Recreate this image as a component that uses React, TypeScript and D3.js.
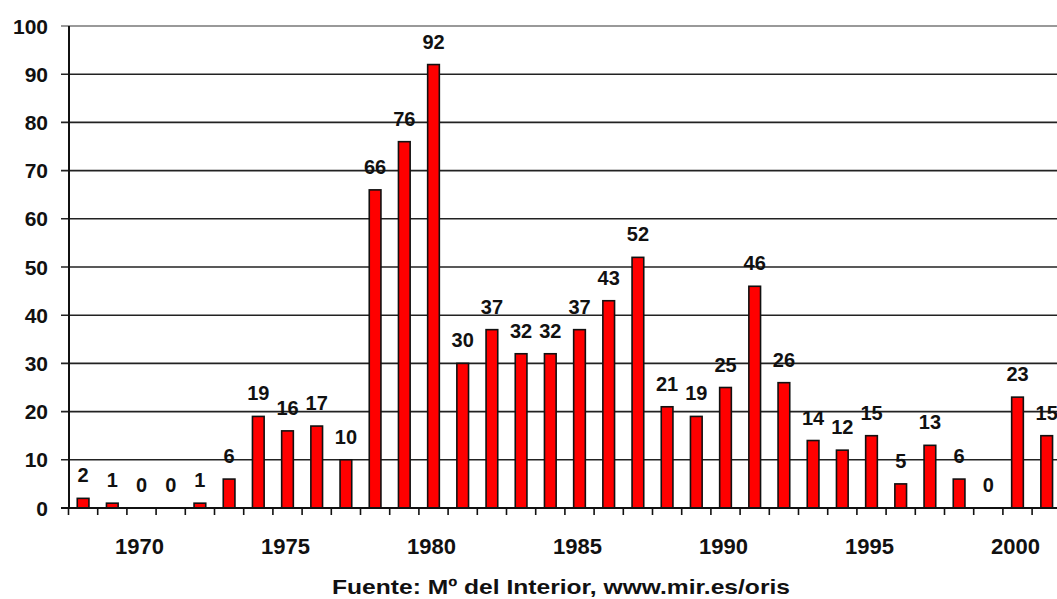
import React, { useEffect, useRef } from 'react';
import * as d3 from 'd3';

const years = d3.range(1968, 2002);
const counts = [2, 1, 0, 0, 1, 6, 19, 16, 17, 10, 66, 76, 92, 30, 37, 32, 32, 37, 43, 52, 21, 19, 25, 46, 26, 14, 12, 15, 5, 13, 6, 0, 23, 15];
const yTicks = [0, 10, 20, 30, 40, 50, 60, 70, 80, 90, 100];
const yearLabels = [1970, 1975, 1980, 1985, 1990, 1995, 2000];
const source = 'Fuente: Mº del Interior, www.mir.es/oris';

const BarChart = ({ width = 1057, height = 599 }) => {
  const svgRef = useRef(null);

  useEffect(() => {
    const svg = d3.select(svgRef.current);
    svg.selectAll('*').remove();

    const left = 68.5;
    const step = 29.2;
    const x = d3.scaleBand()
      .domain(years.map(String))
      .range([left, left + step * years.length])
      .padding(0);

    const y = d3.scaleLinear().domain([0, 100]).range([508, 26]);

    const font = 'Liberation Sans, Arial, sans-serif';

    // gridlines + y labels
    const g = svg.append('g');
    g.selectAll('line.grid')
      .data(yTicks.filter(d => d > 0))
      .enter()
      .append('line')
      .attr('x1', 61)
      .attr('x2', width)
      .attr('y1', d => y(d))
      .attr('y2', d => y(d))
      .attr('stroke', d => (d === 100 ? '#777' : '#222'))
      .attr('stroke-width', 1.6);

    g.selectAll('text.ylab')
      .data(yTicks)
      .enter()
      .append('text')
      .attr('x', 48)
      .attr('y', d => y(d))
      .attr('dy', '0.36em')
      .attr('text-anchor', 'end')
      .style('font-family', font)
      .style('font-weight', 'bold')
      .style('font-size', '21px')
      .attr('fill', '#111')
      .text(d => d);

    // bars
    const bw = x.bandwidth() * 0.4;
    svg.append('g')
      .selectAll('rect')
      .data(counts)
      .enter()
      .append('rect')
      .attr('x', (d, i) => x(String(years[i])) + (x.bandwidth() - bw) / 2)
      .attr('y', d => y(d))
      .attr('width', bw)
      .attr('height', d => y(0) - y(d))
      .attr('fill', '#ff0000')
      .attr('stroke', '#111')
      .attr('stroke-width', 1.6);

    // value labels
    svg.append('g')
      .selectAll('text')
      .data(counts)
      .enter()
      .append('text')
      .attr('x', (d, i) => x(String(years[i])) + x.bandwidth() / 2)
      .attr('y', d => y(d) - 16)
      .attr('text-anchor', 'middle')
      .style('font-family', font)
      .style('font-weight', 'bold')
      .style('font-size', '20px')
      .attr('fill', '#111')
      .text(d => d);

    // axes
    svg.append('line')
      .attr('x1', 69).attr('x2', 69)
      .attr('y1', y(100)).attr('y2', y(0))
      .attr('stroke', '#111').attr('stroke-width', 2);
    svg.append('line')
      .attr('x1', 61).attr('x2', width)
      .attr('y1', y(0)).attr('y2', y(0))
      .attr('stroke', '#111').attr('stroke-width', 2);

    // x ticks at band boundaries
    svg.append('g')
      .selectAll('line')
      .data(years)
      .enter()
      .append('line')
      .attr('x1', d => x(String(d)))
      .attr('x2', d => x(String(d)))
      .attr('y1', y(0))
      .attr('y2', y(0) + 7)
      .attr('stroke', '#111')
      .attr('stroke-width', 1.6);

    svg.append('g')
      .selectAll('text')
      .data(yearLabels)
      .enter()
      .append('text')
      .attr('x', d => x(String(d)) + x.bandwidth() / 2 - 2)
      .attr('y', 554)
      .attr('text-anchor', 'middle')
      .style('font-family', font)
      .style('font-weight', 'bold')
      .style('font-size', '22px')
      .attr('fill', '#111')
      .text(d => d);

    svg.append('text')
      .attr('x', 561)
      .attr('y', 594)
      .attr('text-anchor', 'middle')
      .attr('textLength', 458)
      .attr('lengthAdjust', 'spacingAndGlyphs')
      .style('font-family', font)
      .style('font-weight', 'bold')
      .style('font-size', '21px')
      .attr('fill', '#111')
      .text(source);
  }, []);

  return (
    <svg
      ref={svgRef}
      width={width}
      height={height}
      style={{ position: 'absolute', left: 0, top: 0, background: '#fff' }}
    ></svg>
  );
};

export default function App() {
  return <BarChart />;
}
